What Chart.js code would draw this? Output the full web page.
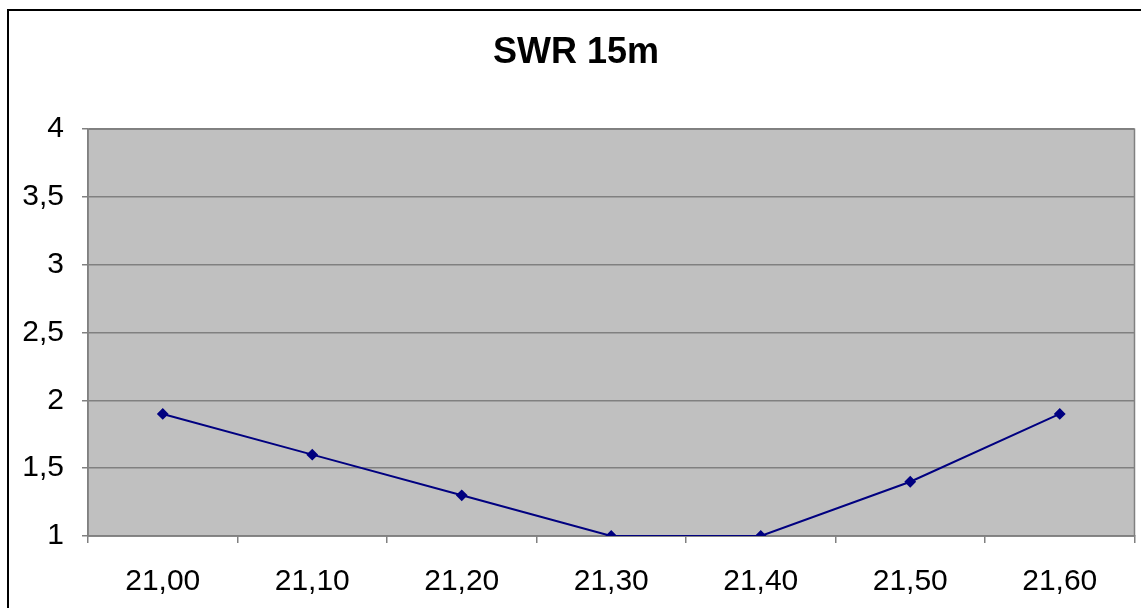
<!DOCTYPE html>
<html lang="de">
<head>
    <meta charset="UTF-8">
    <title>SWR 15m</title>
    <script src="https://cdn.jsdelivr.net/npm/chart.js"></script>
    <style>
        html, body {
            margin: 0;
            padding: 0;
            background: #ffffff;
            overflow: hidden;
        }
        #wrap {
            width: 1141px;
            height: 608px;
            position: relative;
        }
    </style>
</head>
<body>
<div id="wrap">
    <canvas id="swrChart" width="1141" height="608"></canvas>
</div>

<script>
    // Frequenzen (MHz) und gemessenes SWR
    const frequencies = ["21,00", "21,10", "21,20", "21,30", "21,40", "21,50", "21,60"];
    const swrValues = [1.9, 1.6, 1.3, 1.0, 1.0, 1.4, 1.9];
    const chartTitle = "SWR 15m";

    const FONT = "'Liberation Sans', Arial, sans-serif";

    // grauer Plotbereich + schwarzer Rahmen wie in Excel
    const excelBackground = {
        id: "excelBackground",
        beforeDraw(chart) {
            const ctx = chart.ctx;
            const a = chart.chartArea;
            ctx.save();
            ctx.fillStyle = "#ffffff";
            ctx.fillRect(0, 0, chart.width, chart.height);
            ctx.strokeStyle = "#000000";
            ctx.lineWidth = 2;
            ctx.strokeRect(8, 10, chart.width + 20, chart.height + 20);
            ctx.fillStyle = "#c0c0c0";
            ctx.fillRect(a.left, a.top, a.right - a.left, a.bottom - a.top);
            ctx.strokeStyle = "#808080";
            ctx.lineWidth = 1.5;
            ctx.strokeRect(a.left, a.top, a.right - a.left, a.bottom - a.top);
            ctx.restore();
        }
    };

    new Chart(document.getElementById("swrChart"), {
        type: "line",
        data: {
            labels: frequencies,
            datasets: [{
                label: "SWR",
                data: swrValues,
                borderColor: "#000080",
                backgroundColor: "#000080",
                borderWidth: 2,
                pointStyle: "rectRot",
                pointRadius: 4.5,
                pointHoverRadius: 4.5,
                tension: 0,
                fill: false
            }]
        },
        options: {
            responsive: false,
            animation: false,
            layout: { padding: { left: 16, right: 5, top: 0, bottom: 0 } },
            plugins: {
                legend: { display: false },
                tooltip: { enabled: false },
                title: {
                    display: true,
                    text: chartTitle,
                    color: "#000000",
                    font: { family: FONT, size: 36, weight: "bold" },
                    padding: { top: 31, bottom: 55 }
                }
            },
            scales: {
                x: {
                    offset: true,
                    afterFit(scale) { scale.height = 72; },
                    grid: {
                        offset: true,
                        drawOnChartArea: false,
                        drawTicks: true,
                        tickLength: 7,
                        color: "#808080",
                        lineWidth: 1.5
                    },
                    border: { color: "#808080", width: 1.5 },
                    ticks: {
                        color: "#000000",
                        padding: 21,
                        maxRotation: 0,
                        font: { family: FONT, size: 30 }
                    }
                },
                y: {
                    min: 1,
                    max: 4,
                    afterFit(scale) { scale.width = 72; },
                    grid: {
                        color: "#808080",
                        lineWidth: 1.5,
                        tickLength: 6
                    },
                    border: { color: "#808080", width: 1.5 },
                    ticks: {
                        stepSize: 0.5,
                        color: "#000000",
                        padding: 18,
                        font: { family: FONT, size: 30 },
                        callback: v => String(v).replace(".", ",")
                    }
                }
            }
        },
        plugins: [excelBackground]
    });
</script>
</body>
</html>
